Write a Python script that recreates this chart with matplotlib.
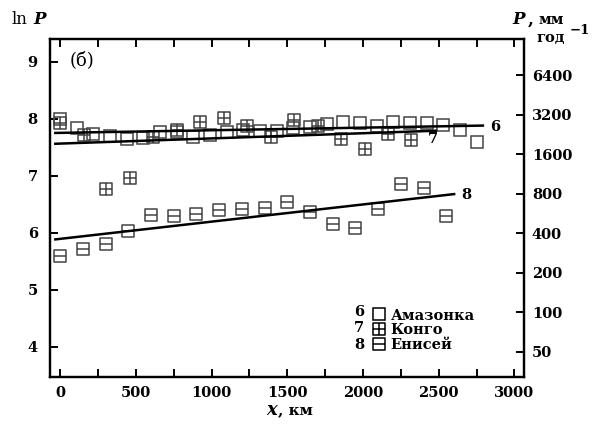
import numpy as np
import matplotlib
matplotlib.use("Agg")
import matplotlib.pyplot as plt
from matplotlib.path import Path

# ---- data ----
amazon_x = [0, 110, 220, 330, 440, 550, 660, 770, 880, 990, 1100, 1210, 1320,
            1430, 1540, 1650, 1760, 1870, 1980, 2090, 2200, 2310, 2420, 2530, 2640, 2750]
amazon_ln = [7.99, 7.83, 7.74, 7.69, 7.65, 7.66, 7.77, 7.76, 7.68, 7.72, 7.77, 7.80, 7.78,
             7.78, 7.84, 7.86, 7.91, 7.94, 7.92, 7.88, 7.94, 7.92, 7.92, 7.89, 7.81, 7.59]

congo_x = [0, 155, 305, 460, 615, 770, 925, 1080, 1235, 1390, 1545, 1700, 1855, 2010, 2165, 2320]
congo_ln = [7.92, 7.72, 6.77, 6.96, 7.68, 7.81, 7.95, 8.01, 7.88, 7.68, 7.97, 7.87, 7.65, 7.46, 7.74, 7.63]

yenisei_x = [0, 150, 300, 450, 600, 750, 900, 1050, 1200, 1350, 1500, 1650, 1800, 1950,
             2100, 2250, 2400, 2550]
yenisei_ln = [5.60, 5.71, 5.81, 6.03, 6.31, 6.29, 6.32, 6.40, 6.42, 6.43, 6.53, 6.36, 6.15, 6.08,
              6.42, 6.85, 6.78, 6.29]

trend6_x, trend6_ln = [-40, 2800], [7.75, 7.88]
trend7_x, trend7_ln = [-40, 2490], [7.56, 7.79]
trend8_x, trend8_ln = [-40, 2610], [5.88, 6.68]

left_ticks = [4, 5, 6, 7, 8, 9]
right_P = [50, 100, 200, 400, 800, 1600, 3200, 6400]
x_ticks = list(range(0, 3001, 250))
x_labels = [str(v) if v % 500 == 0 else "" for v in x_ticks]

labels = ["Амазонка", "Конго", "Енисей"]
numbers = ["6", "7", "8"]

# ---- markers ----
M, L, C = Path.MOVETO, Path.LINETO, Path.CLOSEPOLY
sq_v = [(-1, -1), (1, -1), (1, 1), (-1, 1), (-1, -1)]
sq_c = [M, L, L, L, C]
plus_path = Path(sq_v + [(-1, 0), (1, 0), (0, -1), (0, 1)], sq_c + [M, L, M, L])
minus_path = Path(sq_v + [(-1, 0), (1, 0)], sq_c + [M, L])

SERIF = "DejaVu Serif"
plt.rcParams["font.family"] = SERIF
plt.rcParams["font.weight"] = "bold"

fig = plt.figure(figsize=(6.06, 4.30), dpi=100)
W, H = 606, 430
x0, x1, y0, y1 = 50.3, 523.5, 38.7, 376.5
ax = fig.add_axes([x0 / W, 1 - y1 / H, (x1 - x0) / W, (y1 - y0) / H])

mcol = "#444444"
ms = 8.5
kw = dict(linestyle="none", markersize=ms, markerfacecolor="none",
          markeredgecolor=mcol, markeredgewidth=1.1)
h6, = ax.plot(amazon_x, amazon_ln, marker="s", **kw)
h7, = ax.plot(congo_x, congo_ln, marker=plus_path, **kw)
h8, = ax.plot(yenisei_x, yenisei_ln, marker=minus_path, **kw)

for tx, ty in [(trend6_x, trend6_ln), (trend7_x, trend7_ln), (trend8_x, trend8_ln)]:
    ax.plot(tx, ty, color="black", lw=1.8, solid_capstyle="butt")

fs = 10.5
ax.text(trend6_x[1] + 40, trend6_ln[1] - 0.02, "6", fontsize=fs, fontweight="bold",
        va="center", ha="left")
ax.text(trend7_x[1] - 30, trend7_ln[1] - 0.15, "7", fontsize=fs, fontweight="bold",
        va="center", ha="center")
ax.text(trend8_x[1] + 40, trend8_ln[1] - 0.02, "8", fontsize=fs, fontweight="bold",
        va="center", ha="left")

ax.set_xlim(-65, 3060)
ax.set_ylim(3.477, 9.404)
ax.set_xticks(x_ticks)
ax.set_xticklabels(x_labels, fontsize=fs, fontweight="bold")
ax.set_yticks(left_ticks)
ax.set_yticklabels([str(v) for v in left_ticks], fontsize=fs, fontweight="bold")
ax.tick_params(axis="both", direction="in", length=6, width=1.4, top=True, pad=7)
ax.tick_params(axis="y", pad=9)

ax2 = ax.twinx()
ax2.set_ylim(ax.get_ylim())
ax2.set_yticks(np.log(right_P))
ax2.set_yticklabels([str(p) for p in right_P], fontsize=fs, fontweight="bold")
ax2.tick_params(axis="y", direction="in", length=6, width=1.4, pad=6)

for a in (ax, ax2):
    for s in a.spines.values():
        s.set_linewidth(1.6)

ax.text((70 - x0) / (x1 - x0), (y1 - 60) / (y1 - y0), "(б)", transform=ax.transAxes,
        fontsize=13, fontweight="normal", va="center", ha="left")

# legend
leg = ax.legend([h6, h7, h8], labels, loc="lower left",
                bbox_to_anchor=((373 - x0) / (x1 - x0), (y1 - 352) / (y1 - y0)),
                frameon=False, handlelength=0.8, handletextpad=0.4, labelspacing=0.05,
                borderpad=0, borderaxespad=0,
                prop=dict(family=SERIF, weight="bold", size=fs))
for lh in leg.legend_handles:
    lh.set_markeredgecolor("black")
for i, n in enumerate(numbers):
    fig.text(359.3 / W, 1 - (311.7 + 16.7 * i) / H, n, fontsize=fs, fontweight="bold",
             ha="center", va="center")

# axis labels
fig.text(12 / W, 1 - 19 / H, "ln", fontsize=12, fontweight="normal", va="center", ha="left")
fig.text(33 / W, 1 - 19 / H, "P", fontsize=12, fontweight="bold", style="italic",
         va="center", ha="left")
fig.text(512 / W, 1 - 19 / H, "P", fontsize=12, fontweight="bold", style="italic",
         va="center", ha="left")
fig.text(528 / W, 1 - 20 / H, ",", fontsize=12, fontweight="bold", va="center", ha="left")
fig.text(538 / W, 1 - 20 / H, "мм", fontsize=10.5, fontweight="bold", va="center", ha="left")
fig.text(536 / W, 1 - 38 / H, "год", fontsize=10.5, fontweight="bold", va="center", ha="left")
fig.text(570 / W, 1 - 31 / H, "−1", fontsize=9.5, fontweight="bold", va="center", ha="left")

fig.text(266 / W, 1 - 410 / H, "x", fontsize=13, fontweight="bold", style="italic",
         va="center", ha="left")
fig.text(278 / W, 1 - 410 / H, ", км", fontsize=11, fontweight="bold",
         va="center", ha="left")

fig.savefig("out.png", dpi=100, facecolor="white")
